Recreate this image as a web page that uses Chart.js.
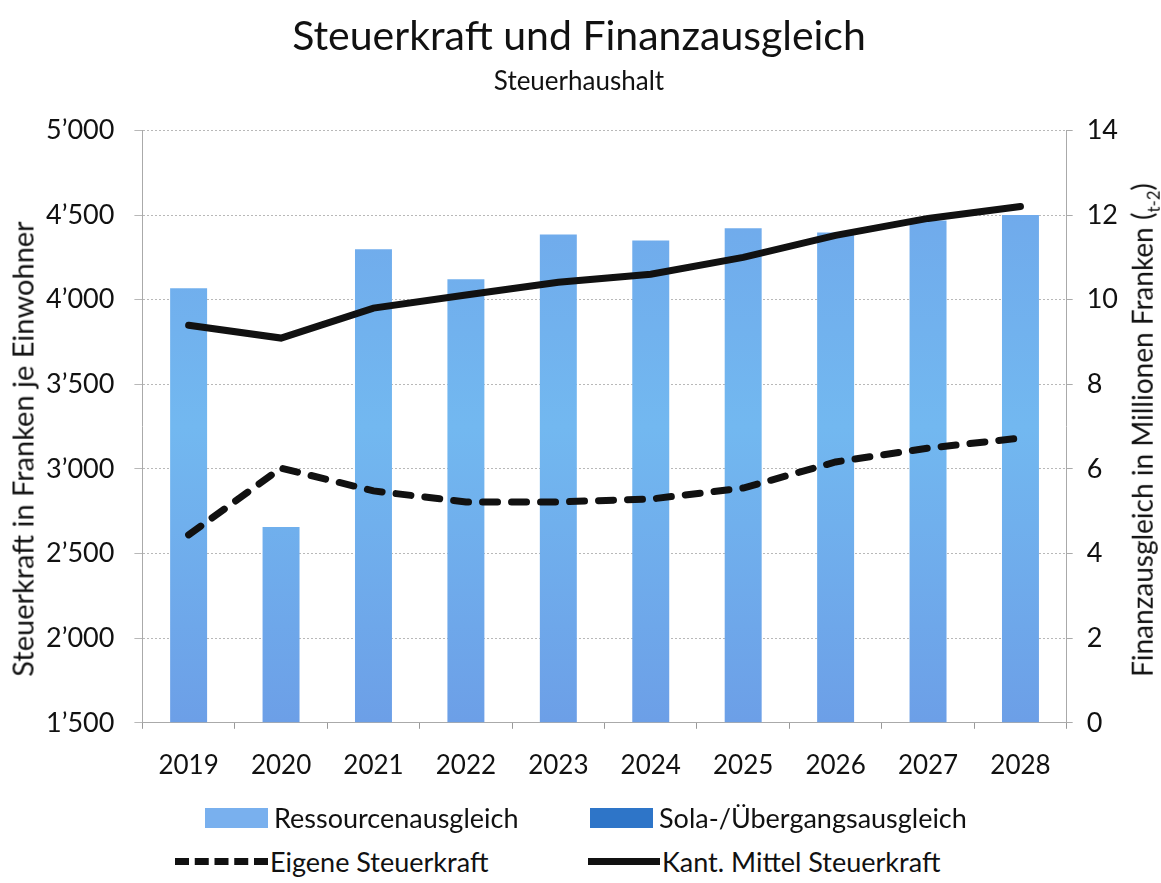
<!DOCTYPE html>
<html>
<head>
<meta charset="utf-8">
<script src="https://cdn.jsdelivr.net/npm/chart.js@4"></script>
<style>
  body { margin: 0; background: #fff; font-family: Lato, "Open Sans", sans-serif; color: #111; }
  #wrap { position: relative; width: 1161px; height: 805px; }
  #legend { position: absolute; left: 0; top: 795px; width: 1161px; font-size: 27px; }
  .item { position: absolute; display: flex; align-items: center; }
  .box { width: 63px; height: 20px; }
  .ln { height: 0; border-top: 7px solid #111; }
  .dash { border-top: 7px dashed #111; }
  .ytitle { position: absolute; white-space: nowrap; transform: translate(-50%, -50%) rotate(-90deg); }
  .ytitle sub { font-size: 60%; }
</style>
</head>
<body>
<div id="wrap">
  <canvas id="myChart" width="1161" height="805"></canvas>
  <div class="ytitle" style="left:22px;top:449px;font-size:29px">Steuerkraft in Franken je Einwohner</div>
  <div class="ytitle" style="left:1144px;top:430px;font-size:28px">Finanzausgleich in Millionen Franken (<sub>t-2</sub>)</div>
</div>
<div id="legend">
  <div class="item" style="left:205px;top:6px"><div class="box" style="background:#79b0ee"></div><span style="margin-left:6px">Ressourcenausgleich</span></div>
  <div class="item" style="left:590px;top:6px"><div class="box" style="background:#2e75c8"></div><span style="margin-left:6px">Sola-/Übergangsausgleich</span></div>
  <div class="item" style="left:175px;top:50px"><div class="ln dash" style="width:93px"></div><span style="margin-left:2px">Eigene Steuerkraft</span></div>
  <div class="item" style="left:588px;top:50px"><div class="ln" style="width:72px"></div><span style="margin-left:2px">Kant. Mittel Steuerkraft</span></div>
</div>
<script>
const years = ['2019', '2020', '2021', '2022', '2023', '2024', '2025', '2026', '2027', '2028']
const ressourcen = [10.27, 4.63, 11.19, 10.48, 11.54, 11.40, 11.69, 11.59, 11.87, 12.0]
const sola = [0, 0, 0, 0, 0, 0, 0, 0, 0, 0]
const eigeneSteuerkraft = [2610, 3005, 2870, 2805, 2805, 2822, 2887, 3041, 3123, 3182]
const kantMittel = [3849, 3773, 3950, 4027, 4103, 4150, 4250, 4380, 4480, 4550]

const fontFam = 'Lato, "Open Sans", sans-serif'
const fmt = v => {
    const s = String(Math.round(v))
    return s.length > 3 ? s.slice(0, -3) + '\u2019' + s.slice(-3) : s
}

const barGradient = (ctx) => {
    const area = ctx.chart.chartArea
    if (!area) return '#79b0ee'
    const g = ctx.chart.ctx.createLinearGradient(0, area.bottom, 0, area.top)
    g.addColorStop(0, '#6c9fe7')
    g.addColorStop(0.5, '#72b8f0')
    g.addColorStop(1, '#6fa5ea')
    return g
}

const ctx = document.getElementById('myChart')
new Chart(ctx, {
    data: {
        labels: years,
        datasets: [
            {
                type: 'line',
                label: 'Eigene Steuerkraft',
                data: eigeneSteuerkraft,
                yAxisID: 'y',
                borderColor: '#111',
                borderWidth: 7,
                borderDash: [15, 14],
                borderCapStyle: 'round',
                pointRadius: 0,
                tension: 0,
                order: 0
            },
            {
                type: 'line',
                label: 'Kant. Mittel Steuerkraft',
                data: kantMittel,
                yAxisID: 'y',
                borderColor: '#111',
                borderWidth: 7,
                borderCapStyle: 'round',
                pointRadius: 0,
                tension: 0,
                order: 0
            },
            {
                type: 'bar',
                label: 'Ressourcenausgleich',
                data: ressourcen,
                yAxisID: 'y1',
                stack: 'fa',
                backgroundColor: barGradient,
                barPercentage: 0.4,
                categoryPercentage: 1,
                order: 1
            },
            {
                type: 'bar',
                label: 'Sola-/Übergangsausgleich',
                data: sola,
                yAxisID: 'y1',
                stack: 'fa',
                backgroundColor: '#2e75c8',
                barPercentage: 0.4,
                categoryPercentage: 1,
                order: 1
            }
        ]
    },
    options: {
        responsive: false,
        animation: false,
        layout: { padding: { left: 26, right: 29, top: 6, bottom: 3 } },
        plugins: {
            legend: { display: false },
            tooltip: { enabled: false },
            title: {
                display: true,
                text: 'Steuerkraft und Finanzausgleich',
                color: '#111',
                font: { family: fontFam, size: 41, weight: 'normal' },
                padding: { top: 6, bottom: 5 }
            },
            subtitle: {
                display: true,
                text: 'Steuerhaushalt',
                color: '#111',
                font: { family: fontFam, size: 26 },
                padding: { bottom: 33 }
            }
        },
        scales: {
            x: {
                offset: true,
                stacked: true,
                grid: { drawOnChartArea: false, tickLength: 6, color: '#999' },
                border: { color: '#aaa', dash: [2, 2] },
                ticks: { color: '#111', font: { family: fontFam, size: 26 }, padding: 21 }
            },
            y: {
                position: 'left',
                min: 1500,
                max: 5000,
                ticks: { stepSize: 500, color: '#111', font: { family: fontFam, size: 27 }, padding: 20, callback: fmt },
                grid: { color: '#b8b8b8', tickLength: 8 },
                border: { color: '#aaa', dash: [2, 2] }
            },
            y1: {
                position: 'right',
                stacked: true,
                min: 0,
                max: 14,
                ticks: { stepSize: 2, color: '#111', font: { family: fontFam, size: 27 }, padding: 14 },
                grid: { drawOnChartArea: false, tickLength: 6, color: '#aaa' },
                border: { color: '#aaa', dash: [2, 2] }
            }
        }
    }
})
</script>
</body>
</html>
